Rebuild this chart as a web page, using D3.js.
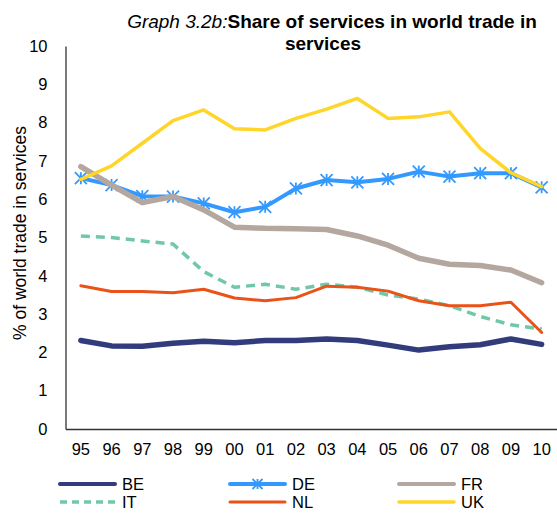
<!DOCTYPE html>
<html>
<head>
<meta charset="utf-8">
<script src="https://cdn.jsdelivr.net/npm/d3@7"></script>
<style>
  html, body { margin: 0; padding: 0; background: #fff; }
  svg { display: block; font-family: "Liberation Sans", Arial, sans-serif; }
</style>
</head>
<body>
<svg id="chart" width="557" height="513"></svg>
<script>
// Years (two-digit labels) shown on the horizontal axis
const years = ["95","96","97","98","99","00","01","02","03","04","05","06","07","08","09","10"];
const yTicks = [0,1,2,3,4,5,6,7,8,9,10];

// Share of world services trade, % per country
const BE = [2.31,2.17,2.16,2.24,2.29,2.25,2.31,2.31,2.35,2.31,2.19,2.06,2.15,2.20,2.35,2.21];
const DE = [6.55,6.37,6.08,6.07,5.89,5.66,5.80,6.28,6.50,6.44,6.53,6.72,6.59,6.68,6.68,6.31];
const FR = [6.85,6.37,5.91,6.07,5.72,5.27,5.24,5.23,5.21,5.04,4.80,4.46,4.30,4.27,4.15,3.82];
const IT = [5.04,5.00,4.91,4.83,4.11,3.70,3.78,3.65,3.78,3.70,3.50,3.39,3.22,2.94,2.72,2.61];
const NL = [3.74,3.59,3.59,3.56,3.65,3.42,3.35,3.43,3.73,3.70,3.60,3.35,3.22,3.22,3.31,2.52];
const UK = [6.52,6.87,7.46,8.05,8.33,7.84,7.81,8.11,8.35,8.63,8.11,8.15,8.28,7.33,6.69,6.33];

const series = [
  { name: "BE", values: BE, color: "#323C7C", width: 5.5 },
  { name: "DE", values: DE, color: "#3399FF", width: 4, star: true },
  { name: "FR", values: FR, color: "#B4A79F", width: 5.5 },
  { name: "IT", values: IT, color: "#6FC9A6", width: 3.5, dash: "9,6" },
  { name: "NL", values: NL, color: "#EA5219", width: 3 },
  { name: "UK", values: UK, color: "#FFD52A", width: 3.5 }
];

const svg = d3.select("#chart");
const plot = { left: 65.5, right: 557, top: 46, bottom: 429 };

const x = d3.scaleBand().domain(years).range([plot.left, plot.right]);
const y = d3.scaleLinear().domain([0, 10]).range([plot.bottom, plot.top]);

// Title (two centred lines)
const title = svg.append("text")
  .attr("x", 332).attr("y", 28)
  .attr("text-anchor", "middle")
  .attr("font-size", 19)
  .attr("fill", "#000");
title.append("tspan").attr("font-style", "italic").text("Graph 3.2b:");
title.append("tspan").attr("font-weight", "bold")
  .text("Share of services in world trade in");
svg.append("text")
  .attr("x", 323).attr("y", 50)
  .attr("text-anchor", "middle")
  .attr("font-size", 19).attr("font-weight", "bold")
  .text("services");

// Y axis
const yAxis = svg.append("g")
  .attr("transform", `translate(${plot.left},0)`)
  .call(d3.axisLeft(y).tickValues(yTicks).tickSize(0).tickPadding(18).tickFormat(d3.format("d")));
yAxis.select(".domain").attr("stroke", "#333").attr("stroke-width", 1.3);
yAxis.selectAll("text").attr("font-size", 16.5).attr("fill", "#000")
  .attr("font-family", "Liberation Sans, Arial, sans-serif");

// X axis
const xAxis = svg.append("g")
  .attr("transform", `translate(0,${plot.bottom})`)
  .call(d3.axisBottom(x).tickSize(0).tickPadding(14));
xAxis.select(".domain").attr("stroke", "#333").attr("stroke-width", 1.3);
xAxis.selectAll("text").attr("font-size", 16.5).attr("fill", "#000")
  .attr("font-family", "Liberation Sans, Arial, sans-serif");

// Y axis title
svg.append("text")
  .attr("transform", "translate(26,233) rotate(-90)")
  .attr("text-anchor", "middle")
  .attr("font-size", 17.5)
  .text("% of world trade in services");

const line = d3.line()
  .x((d, i) => x(years[i]) + x.bandwidth() / 2)
  .y(d => y(d));

// Asterisk-style marker centred on 0,0
function simpleStar(r) {
  return `M0,${-r}V${r}M${-r},${-r}L${r},${r}M${-r},${r}L${r},${-r}`;
}

const lines = svg.append("g");
series.forEach(s => {
  lines.append("path")
    .datum(s.values)
    .attr("d", line)
    .attr("fill", "none")
    .attr("stroke", s.color)
    .attr("stroke-width", s.width)
    .attr("stroke-linejoin", "round")
    .attr("stroke-linecap", s.dash ? "butt" : "round")
    .attr("stroke-dasharray", s.dash || null);
  if (s.star) {
    lines.append("g").selectAll("path")
      .data(s.values)
      .join("path")
      .attr("transform", (d, i) => `translate(${x(years[i]) + x.bandwidth() / 2},${y(d)})`)
      .attr("d", simpleStar(6))
      .attr("stroke", s.color)
      .attr("stroke-width", 1.8)
      .attr("fill", "none");
  }
});

// Legend: three columns, two rows
const legCols = [59, 229, 398];
const legRows = [484, 502];
const legend = svg.append("g");
series.forEach((s, i) => {
  const lx = legCols[i % 3];
  const ly = legRows[Math.floor(i / 3)];
  const g = legend.append("g");
  g.append("line")
    .attr("x1", lx + 1).attr("x2", lx + 56)
    .attr("y1", ly).attr("y2", ly)
    .attr("stroke", s.color)
    .attr("stroke-width", Math.min(s.width, 4))
    .attr("stroke-linecap", s.dash ? "butt" : "round")
    .attr("stroke-dasharray", s.dash ? "7,5" : null);
  if (s.star) {
    g.append("path")
      .attr("transform", `translate(${lx + 28.5},${ly})`)
      .attr("d", simpleStar(5))
      .attr("stroke", s.color).attr("stroke-width", 1.8);
  }
  g.append("text")
    .attr("x", lx + 63).attr("y", ly + 6)
    .attr("font-size", 16.5)
    .text(s.name);
});
</script>
</body>
</html>
